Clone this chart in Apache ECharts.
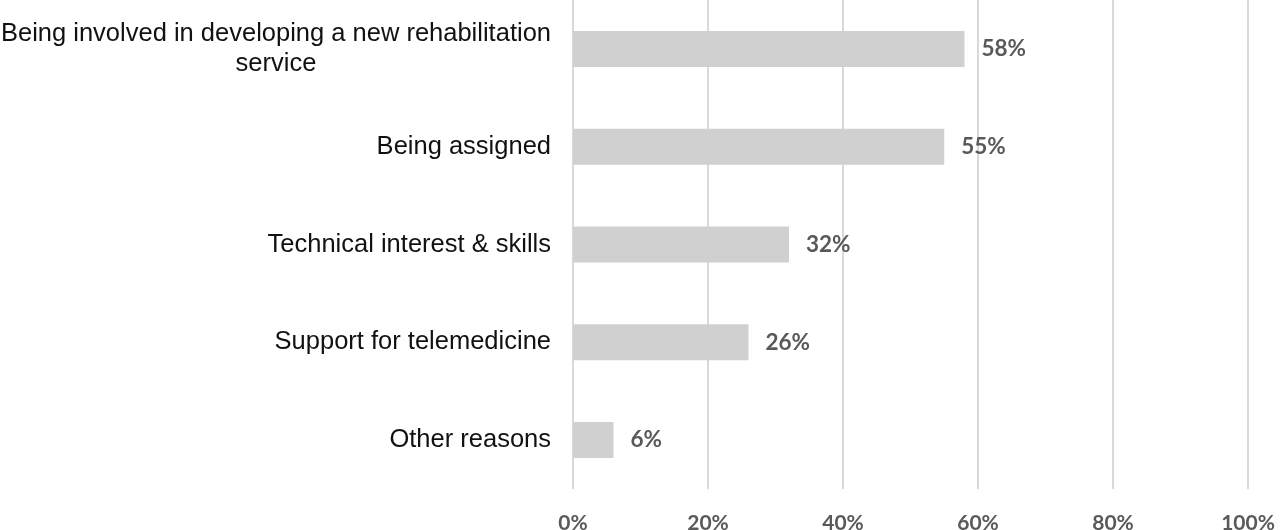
<!DOCTYPE html>
<html><head><meta charset="utf-8">
<script src="https://cdn.jsdelivr.net/npm/echarts@6/dist/echarts.min.js"></script>
<style>html,body{margin:0;padding:0;background:#fff}#c{width:1280px;height:530px}</style>
</head><body><div id="c"></div>
<script>
const categories = [
  "Being involved in developing a new rehabilitation\nservice",
  "Being assigned",
  "Technical interest & skills",
  "Support for telemedicine",
  "Other reasons"
];
const values = [58, 55, 32, 26, 6];
const tickValues = [0, 20, 40, 60, 80, 100];

const chart = echarts.init(document.getElementById('c'));
chart.setOption({
  animation: false,
  grid: { left: 573, right: 32, top: 0, bottom: 41, containLabel: false, outerBoundsMode: 'none' },
  xAxis: {
    type: 'value', min: 0, max: 100, interval: 20,
    axisLine: { show: false }, axisTick: { show: false },
    splitLine: { lineStyle: { color: '#d9d9d9', width: 2 } },
    axisLabel: {
      margin: 24, color: '#595959', fontFamily: 'Lato', fontWeight: 'bold', fontSize: 21,
      formatter: v => v + '%'
    }
  },
  yAxis: {
    type: 'category', inverse: true, data: categories,
    axisLine: { show: false }, axisTick: { show: false },
    axisLabel: {
      margin: 22, color: '#111', fontFamily: 'Liberation Sans', fontSize: 25.5,
      formatter: v => v.split('\n').map(s => '{c|' + s + '}').join('\n'),
      rich: { c: { align: 'center', fontFamily: 'Liberation Sans', fontSize: 25.5, color: '#111', lineHeight: 30 } }
    }
  },
  series: [{
    type: 'bar', data: values, barWidth: 36,
    itemStyle: { color: '#d0d0d0' },
    label: {
      show: true, position: 'right', distance: 17,
      color: '#595959', fontFamily: 'Lato', fontWeight: 'bold', fontSize: 22.5,
      formatter: p => p.value + '%'
    }
  }]
});
</script></body></html>
